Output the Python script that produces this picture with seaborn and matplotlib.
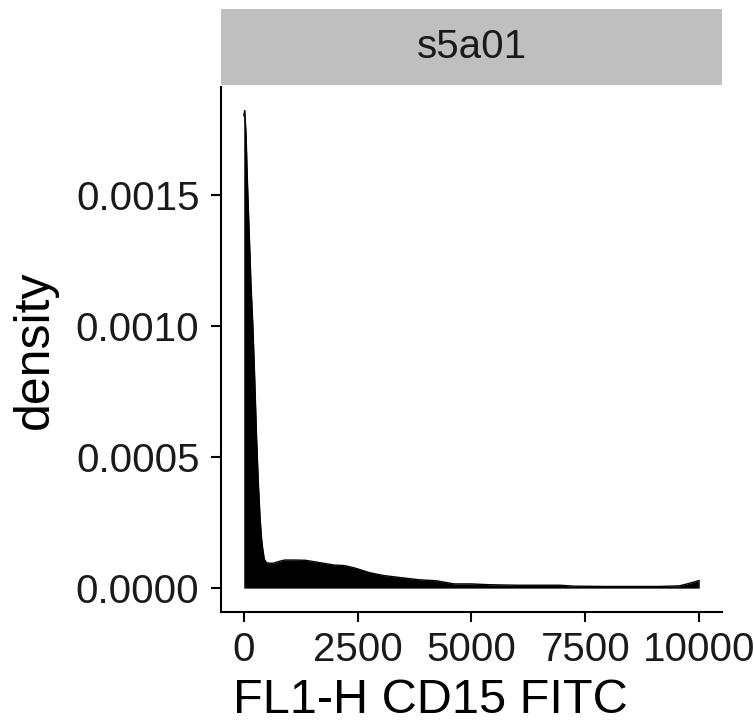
import numpy as np
import pandas as pd
import matplotlib
matplotlib.use("Agg")
import matplotlib.pyplot as plt
import seaborn as sns

# ---- data ----
facet_label = "s5a01"
x_title = "FL1-H CD15 FITC"
y_title = "density"
x_ticks = [0, 2500, 5000, 7500, 10000]
x_tick_labels = ["0", "2500", "5000", "7500", "10000"]
y_ticks = [0.0, 0.0005, 0.0010, 0.0015]
y_tick_labels = ["0.0000", "0.0005", "0.0010", "0.0015"]

fl1_h = [0, 20, 50, 80, 120, 160, 200, 240, 280, 320, 360, 400, 450, 500,
         550, 650, 800, 900, 1130, 1360, 1670, 1980, 2210, 2450, 2760,
         3070, 3450, 3840, 4230, 4620, 5000, 5390, 6010, 6940, 7250, 7950,
         9110, 9570, 9800, 10000]
density = [0.00180, 0.00182, 0.00173, 0.00155, 0.00135, 0.00115, 0.00100,
           0.00080, 0.00058, 0.00040, 0.00026, 0.00017, 0.00011, 0.000097,
           0.000095, 0.000095, 0.000103, 0.000107, 0.000107, 0.000106,
           0.000097, 0.000088, 0.000086, 0.000076, 0.000059, 0.000048,
           0.000040, 0.000032, 0.000028, 0.000016, 0.000016, 0.000013,
           0.000011, 0.000011, 0.0000076, 0.0000063, 0.0000063, 0.0000088,
           0.000019, 0.000029]

df = pd.DataFrame({"FL1-H CD15 FITC": fl1_h, "density": density})

sns.set_theme(style="white")
plt.rcParams["font.family"] = ["Liberation Sans", "DejaVu Sans"]

W, H = 754, 724
fig = plt.figure(figsize=(W / 100, H / 100), dpi=100)

# panel
pl, pr, pt, pb = 221, 722, 87, 612
ax = fig.add_axes([pl / W, (H - pb) / H, (pr - pl) / W, (pb - pt) / H])
ax.fill_between(df["FL1-H CD15 FITC"], df["density"], 0, color="black", lw=0)
sns.lineplot(data=df, x="FL1-H CD15 FITC", y="density", ax=ax,
             color="black", lw=1.0)

ax.set_xlim(-500, 10500)
ax.set_ylim(-0.0000910, 0.00191)
ax.set_xticks(x_ticks)
ax.set_xticklabels(x_tick_labels)
ax.set_yticks(y_ticks)
ax.set_yticklabels(y_tick_labels)

for s in ["top", "right"]:
    ax.spines[s].set_visible(False)
for s in ["left", "bottom"]:
    ax.spines[s].set_visible(True)
    ax.spines[s].set_color("black")
    ax.spines[s].set_linewidth(1.5)
ax.tick_params(axis="both", which="major", direction="out", length=7.5,
               width=1.5, color="black", labelsize=29, labelcolor="#1a1a1a",
               pad=6, bottom=True, left=True)
ax.tick_params(axis="y", pad=8)
ax.grid(False)

ax.set_xlabel(x_title, fontsize=35, color="black")
ax.xaxis.label.set_va("baseline")
ax.xaxis.set_label_coords((430 - pl) / (pr - pl), -(713 - pb) / (pb - pt))
ax.set_ylabel(y_title, fontsize=36, color="black")
ax.yaxis.label.set_va("center")
ax.yaxis.set_label_coords(-(pl - 35) / (pr - pl), 0.5)

# facet strip
sax = fig.add_axes([pl / W, (H - 85) / H, (pr - pl) / W, (85 - 9) / H])
sax.set_facecolor("#bfbfbf")
for s in sax.spines.values():
    s.set_visible(False)
sax.set_xticks([])
sax.set_yticks([])
sax.text(0.5, 0.5, facet_label, ha="center", va="center", fontsize=29,
         color="#1a1a1a", transform=sax.transAxes)

fig.savefig("out.png", dpi=100)
